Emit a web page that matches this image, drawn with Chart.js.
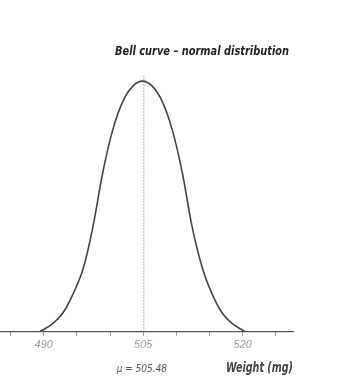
<!DOCTYPE html>
<html>
<head>
<meta charset="utf-8">
<script src="https://cdn.jsdelivr.net/npm/chart.js@4.4.1/dist/chart.umd.min.js"></script>
<style>
  html, body { margin: 0; padding: 0; background: #fff; }
  #wrap { width: 364px; height: 383px; }
</style>
</head>
<body>
<div id="wrap"><canvas id="bell"></canvas></div>
<script>
// values
const weights = [489.4, 491.3, 492.8, 494.3, 495.9, 497.4, 498.9, 500.4, 501.9, 503.4, 504.9,
  506.4, 507.9, 509.4, 510.9, 512.4, 514.0, 515.5, 517.0, 518.5, 520.4];
const density = [0, 0.0021, 0.0048, 0.0096, 0.0165, 0.0277, 0.0422, 0.0535, 0.0610, 0.0651, 0.0665,
  0.0651, 0.0610, 0.0535, 0.0422, 0.0277, 0.0165, 0.0096, 0.0048, 0.0021, 0];
const tickValues = [485, 490, 495, 500, 505, 510, 515, 520, 525];
const labeledTicks = [490, 505, 520];
const meanLine = [505.1, 505.1];
const meanLineY = [0, 0.0681];
const meanText = "\u03bc = 505.48";
const titleText = "Bell curve \u2013 normal distribution";
const axisText = "Weight (mg)";

const narrow = "'Liberation Sans Narrow', 'DejaVu Sans Condensed', sans-serif";

const curve = weights.map((w, i) => ({ x: w, y: density[i] }));
const meanPts = meanLine.map((w, i) => ({ x: w, y: meanLineY[i] }));

// squeeze text horizontally to a given width
const fitText = (c, txt, right, y, width) => {
  const w = c.measureText(txt).width;
  c.save();
  c.translate(right, y);
  c.scale(Math.min(1, width / w), 1);
  c.textAlign = "right";
  c.fillText(txt, 0, 0);
  c.restore();
};

const textPlugin = {
  id: "texts",
  afterDraw(chart) {
    const c = chart.ctx;
    const xs = chart.scales.x;
    c.save();
    c.textBaseline = "middle";
    c.fillStyle = "#222";
    c.font = "italic bold 13px " + narrow;
    fitText(c, titleText, 289, 52, 174);
    c.fillStyle = "#444";
    c.font = "italic bold 14px " + narrow;
    fitText(c, axisText, 293, 368, 67);
    c.fillStyle = "#555";
    c.font = "italic 10px " + narrow;
    c.textAlign = "center";
    c.fillText(meanText, xs.getPixelForValue(meanLine[0]) - 2, 369);
    c.restore();
  },
};

new Chart(document.getElementById("bell"), {
  type: "scatter",
  data: {
    datasets: [
      {
        data: curve,
        showLine: true,
        borderColor: "#444",
        borderWidth: 1.6,
        pointRadius: 0,
        tension: 0.4,
        fill: false,
      },
      {
        data: meanPts,
        showLine: true,
        borderColor: "#999",
        borderWidth: 1,
        borderDash: [1.5, 1.5],
        pointRadius: 0,
      },
    ],
  },
  options: {
    responsive: true,
    maintainAspectRatio: false,
    animation: false,
    layout: { padding: { left: 0, right: 71, top: 60, bottom: 28 } },
    plugins: {
      legend: { display: false },
      tooltip: { enabled: false },
    },
    scales: {
      x: {
        type: "linear",
        min: 483.4,
        max: 527.6,
        afterBuildTicks: (scale) => {
          scale.ticks = tickValues.map((v) => ({ value: v }));
        },
        grid: {
          drawOnChartArea: false,
          drawTicks: true,
          tickLength: 4,
          color: "#999",
        },
        border: { color: "#555", width: 1.2 },
        ticks: {
          color: "#999",
          font: { family: "'Liberation Sans', sans-serif", size: 11, style: "italic" },
          padding: 3,
          maxRotation: 0,
          autoSkip: false,
          callback: (v) => (labeledTicks.includes(v) ? String(v) : ""),
        },
      },
      y: {
        display: false,
        min: 0,
        max: 0.0721,
      },
    },
  },
  plugins: [textPlugin],
});
</script>
</body>
</html>
